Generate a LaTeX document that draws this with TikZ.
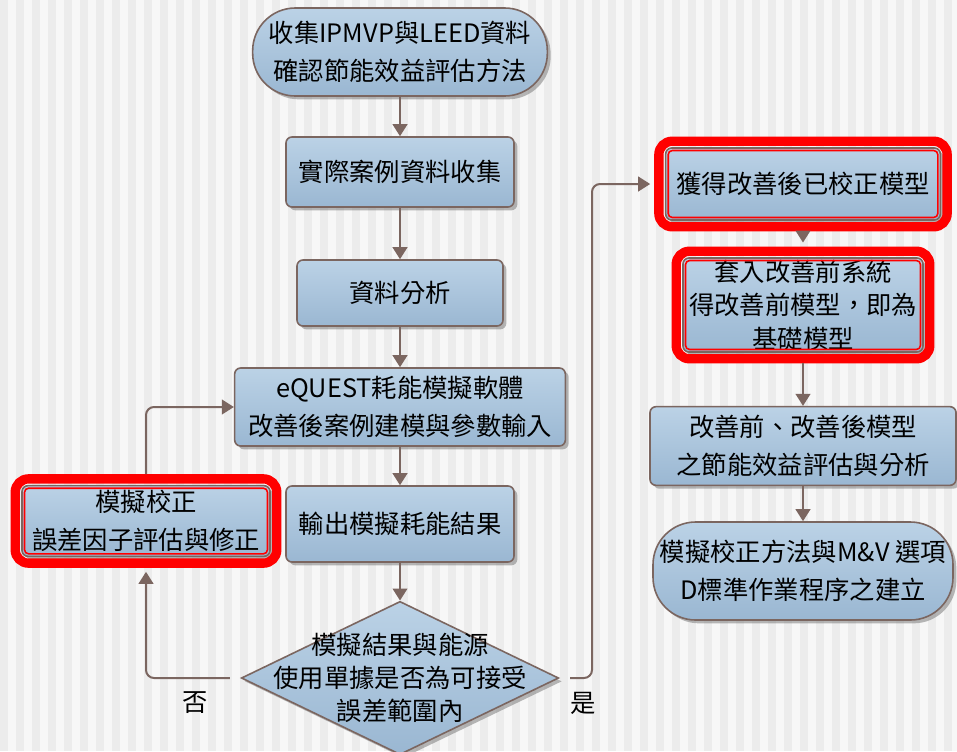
\documentclass[tikz,border=0pt]{standalone}
\usepackage{fontspec}
\setmainfont{Noto Sans CJK TC}
\usetikzlibrary{positioning,shapes.geometric,shadows,arrows.meta,fit}
\definecolor{boxlight}{HTML}{BBD2E6}
\definecolor{boxdark}{HTML}{9AB7D2}
\definecolor{edgebrown}{HTML}{7B6660}
\definecolor{stripeA}{HTML}{F7F7F7}
\definecolor{stripeB}{HTML}{ECECEC}

\begin{document}
\begin{tikzpicture}
		[
		x=0.75pt, y=-0.75pt,
		font=\fontsize{19}{28.5}\selectfont,
		flow/.style={draw=edgebrown, line width=1.5pt, -{Triangle[width=11pt,length=9pt]}}
		]
		
		% Node styles: process box, terminal, decision and the red highlight frames
		\tikzstyle{process}=[rectangle, rounded corners=4.5pt, draw=edgebrown, line width=1.2pt, top color=boxlight, bottom color=boxdark, align=center, inner sep=0pt, drop shadow={shadow xshift=2.5pt, shadow yshift=-2.5pt, fill=black!55, opacity=0.5}];
		\tikzstyle{terminal}=[process, rounded corners=32pt];
		\tikzstyle{decision}=[diamond, draw=edgebrown, line width=1.2pt, top color=boxlight, bottom color=boxdark, inner sep=0pt, minimum width=238pt, minimum height=115pt, drop shadow={shadow xshift=2.5pt, shadow yshift=-2.5pt, fill=black!55, opacity=0.5}];
		\tikzstyle{redframe}=[draw=red, line width=7pt, rounded corners=10pt, inner sep=4.5pt];
		\tikzstyle{redinner}=[draw=red, line width=1.2pt, rounded corners=3pt, inner sep=-2.5pt];
		
		% Background with stripes
		\useasboundingbox (0,0) rectangle (957,751);
		\fill[stripeA] (0,0) rectangle (957,751);
		\foreach \x in {0,16,...,944} \fill[stripeB] (\x,0) rectangle ++(8,751);
		
		% Left column
		\node[terminal, minimum width=221pt, minimum height=66pt](start)at(400,52){收集IPMVP與LEED資料\\確認節能效益評估方法};
		\node[process, minimum width=171pt, minimum height=52.5pt](collect)at(400,172){實際案例資料收集};
		\node[process, minimum width=154.5pt, minimum height=49.5pt](analyse)at(400,293){資料分析};
		\node[process, minimum width=248pt, minimum height=58.5pt](model)at(400,407){eQUEST耗能模擬軟體\\改善後案例建模與參數輸入};
		\node[process, minimum width=171pt, minimum height=57pt](output)at(400,524){輸出模擬耗能結果};
		\node[process, minimum width=186pt, minimum height=53pt](calib)at(146,521){模擬校正\\誤差因子評估與修正};
		\node[decision](check)at(400,678){};
		\node[align=center, font=\fontsize{19}{25}\selectfont](checktext)at(check){模擬結果與能源\\使用單據是否為可接受\\誤差範圍內};
		
		% Right column
		\node[process, minimum width=206pt, minimum height=54pt](gained)at(803,184){獲得改善後已校正模型};
		\node[process, minimum width=180pt, minimum height=70.5pt, font=\fontsize{19}{25}\selectfont](base)at(803,305){套入改善前系統\\得改善前模型，即為\\基礎模型};
		\node[process, minimum width=229.5pt, minimum height=59pt](compare)at(803,446){改善前、改善後模型\\之節能效益評估與分析};
		\node[terminal, minimum width=225pt, minimum height=73.5pt](final)at(803,571){模擬校正方法與M\&V 選項\\D標準作業程序之建立};
		
		% Answers
		\node(no)at(195,703){否};
		\node(yes)at(583,703){是};
		
		% Red highlight frames
		\node[redframe, fit=(calib)](calibframe){};
		\node[redinner, fit=(calib)]{};
		\node[redframe, fit=(gained)](gainedframe){};
		\node[redinner, fit=(gained)]{};
		\node[redframe, fit=(base)](baseframe){};
		\node[redinner, fit=(base)]{};
		
		% Flow
		\draw[flow](start)--(collect);
		\draw[flow](collect)--(analyse);
		\draw[flow](analyse)--(model);
		\draw[flow](model)--(output);
		\draw[flow](output)--(check);
		% not acceptable: back to calibration
		\draw[flow, rounded corners=6pt, shorten <=8pt, shorten >=3pt](check.west)-|(calibframe.south);
		\draw[flow, rounded corners=6pt](calibframe.north)|-(model.west);
		% acceptable: on to the right column
		\coordinate(turn)at(592,678);
		\draw[flow, rounded corners=6pt, shorten <=8pt, shorten >=3pt](check.east)--(turn)|-(gainedframe.west);
		\draw[flow, shorten >=3pt](gainedframe)--(baseframe);
		\draw[flow](baseframe)--(compare);
		\draw[flow](compare)--(final);
		
		\end{tikzpicture}
\end{document}
